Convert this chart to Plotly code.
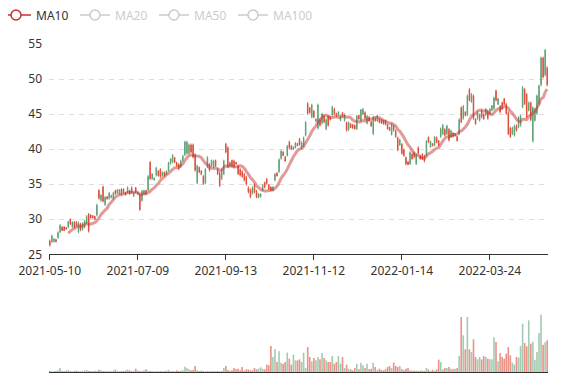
import pandas as pd
import plotly.graph_objects as go

# ---------------- data ----------------
HOLIDAYS = ["2021-05-31", "2021-08-02", "2021-08-03", "2021-09-06", "2021-10-01",
            "2021-12-24", "2021-12-31", "2022-01-17", "2022-01-31", "2022-02-01",
            "2022-02-02", "2022-02-03", "2022-02-04"]
DATES = [d.strftime("%Y-%m-%d") for d in pd.bdate_range("2021-05-10", "2022-05-03")
         if d.strftime("%Y-%m-%d") not in HOLIDAYS]

TICK_LABELS = ["2021-05-10", "2021-07-09", "2021-09-13", "2021-11-12", "2022-01-14", "2022-03-24"]

OPEN = [26.9, 26.8, 26.8, 27.1, 27.4, 28.2, 28.9, 28.9, 28.8, 28.9,
        30.0, 28.9, 29.6, 29.6, 28.2, 29.3, 28.6, 28.9, 29.5, 30.7,
        30.6, 30.5, 30.4, 30.6, 34.1, 32.7, 34.6, 32.1, 33.2, 33.0,
        33.1, 33.0, 34.1, 33.7, 33.6, 34.3, 34.3, 33.8, 33.8, 34.1,
        34.5, 33.3, 34.5, 33.8, 33.5, 32.7, 33.6, 34.1, 34.2, 38.1,
        35.8, 35.6, 36.3, 36.9, 37.1, 36.2, 36.7, 36.4, 37.0, 37.9,
        38.2, 38.8, 38.1, 37.8, 37.5, 38.4, 39.2, 39.4, 39.4, 40.6,
        40.6, 39.2, 35.2, 37.4, 36.9, 36.1, 35.2, 37.5, 37.8, 37.6,
        37.5, 38.4, 37.1, 36.6, 35.8, 36.5, 40.7, 40.2, 37.6, 38.4,
        38.3, 38.1, 37.6, 37.1, 36.8, 36.4, 36.0, 34.5, 34.2, 33.7,
        34.9, 34.0, 33.1, 33.2, 34.2, 35.2, 35.7, 34.9, 34.6, 34.1,
        35.6, 36.6, 36.8, 38.7, 39.6, 38.9, 39.1, 41.0, 40.5, 40.0,
        40.2, 40.8, 41.4, 40.2, 40.5, 42.0, 46.5, 45.9, 44.6, 45.4,
        44.0, 43.0, 44.2, 43.7, 44.7, 42.9, 44.7, 44.6, 44.9, 45.7,
        45.1, 44.8, 44.1, 45.2, 44.1, 43.8, 42.8, 43.6, 43.5, 43.4,
        42.9, 44.8, 44.1, 45.0, 45.2, 43.7, 44.6, 43.9, 42.2, 44.4,
        44.0, 44.3, 44.2, 44.1, 44.1, 43.5, 43.1, 42.1, 43.3, 42.6,
        41.6, 40.6, 40.7, 39.9, 38.8, 38.2, 37.9, 39.3, 39.5, 37.9,
        40.2, 39.1, 39.3, 39.0, 39.1, 41.7, 40.3, 40.8, 40.5, 41.7,
        41.2, 41.8, 42.2, 42.8, 42.2, 42.8, 41.7, 42.3, 41.9, 41.8,
        42.2, 45.9, 44.4, 45.3, 44.9, 48.5, 46.8, 47.6, 44.3, 44.4,
        44.1, 45.4, 45.0, 44.9, 45.4, 45.0, 45.5, 45.8, 48.3, 46.4,
        46.1, 46.6, 47.2, 46.4, 45.2, 43.0, 42.2, 42.0, 43.3, 43.2,
        43.4, 46.0, 48.5, 47.8, 45.5, 46.6, 41.2, 44.1, 45.1, 46.5,
        49.2, 53.0, 50.6, 51.6]

HIGH = [27.1, 27.8, 27.3, 27.2, 28.3, 29.3, 29.0, 29.0, 28.9, 29.8,
        30.1, 29.7, 29.7, 29.7, 29.7, 29.5, 29.6, 29.9, 30.6, 30.9,
        30.7, 30.6, 30.5, 32.2, 34.3, 33.6, 34.8, 33.3, 33.3, 33.9,
        33.5, 33.9, 34.2, 34.3, 34.3, 34.4, 34.4, 33.9, 34.7, 34.2,
        34.7, 33.9, 34.6, 33.9, 33.7, 34.2, 34.2, 34.2, 36.3, 38.3,
        36.6, 36.0, 37.5, 37.0, 37.3, 36.8, 36.8, 37.0, 38.2, 38.7,
        39.3, 38.9, 38.2, 38.0, 38.5, 39.2, 41.2, 41.2, 40.8, 40.8,
        40.8, 39.4, 37.8, 37.5, 37.0, 36.3, 37.3, 39.0, 38.0, 38.5,
        38.5, 38.5, 37.3, 36.8, 37.3, 38.5, 40.9, 40.4, 38.2, 38.5,
        38.5, 38.2, 37.8, 37.3, 37.0, 36.6, 36.2, 34.7, 34.4, 34.7,
        35.1, 34.2, 33.7, 33.7, 35.0, 35.4, 35.9, 35.0, 34.7, 34.7,
        36.6, 36.7, 38.7, 39.9, 39.7, 39.0, 40.6, 41.2, 40.6, 40.4,
        41.0, 40.9, 41.6, 41.1, 41.8, 44.0, 46.7, 46.0, 46.5, 45.6,
        44.4, 46.5, 44.4, 45.2, 44.9, 44.4, 44.9, 44.7, 46.2, 45.9,
        45.2, 45.4, 44.8, 45.3, 45.1, 43.95, 43.95, 43.7, 43.6, 43.5,
        44.9, 44.9, 45.75, 45.85, 45.4, 44.9, 44.7, 44.0, 44.7, 44.5,
        44.9, 44.4, 44.3, 44.2, 44.2, 43.6, 43.2, 43.7, 43.5, 42.8,
        41.8, 41.5, 40.85, 40.1, 38.95, 38.3, 39.7, 39.4, 39.7, 39.4,
        40.4, 39.2, 39.4, 39.2, 41.3, 41.8, 41.2, 40.85, 41.9, 41.8,
        41.3, 43.1, 43.6, 43.0, 43.5, 43.0, 42.8, 42.4, 42.3, 41.9,
        44.4, 46.1, 46.3, 45.4, 47.8, 48.7, 48.0, 47.8, 44.4, 45.4,
        45.1, 45.6, 45.1, 45.85, 45.6, 45.85, 46.3, 47.5, 48.5, 47.3,
        46.3, 46.8, 47.3, 46.6, 45.4, 43.2, 43.2, 43.5, 43.5, 44.7,
        44.9, 49.0, 48.7, 48.0, 46.8, 46.8, 46.1, 45.85, 47.8, 49.2,
        53.2, 53.2, 54.3, 51.8]

LOW = [26.1, 26.6, 26.7, 26.7, 27.2, 28.0, 28.3, 28.3, 28.5, 28.7,
       29.2, 28.8, 28.7, 29.0, 28.0, 28.3, 28.4, 28.7, 29.3, 28.1,
       30.1, 30.1, 29.9, 30.4, 32.8, 32.5, 32.4, 31.9, 32.8, 32.8,
       33.0, 32.8, 33.5, 33.6, 33.5, 33.5, 33.7, 33.4, 33.7, 33.5,
       33.7, 33.2, 33.7, 33.5, 31.2, 32.5, 33.5, 33.5, 34.0, 35.6,
       35.6, 35.5, 36.1, 36.1, 35.9, 36.1, 36.1, 36.3, 36.8, 37.8,
       38.0, 38.0, 37.5, 37.0, 37.3, 38.2, 39.0, 39.2, 39.2, 39.4,
       38.7, 36.8, 35.0, 36.6, 36.3, 34.9, 35.0, 37.3, 36.8, 37.5,
       37.3, 37.5, 36.3, 34.6, 35.6, 36.3, 39.4, 37.3, 37.5, 37.5,
       37.3, 37.8, 36.3, 36.1, 35.9, 35.4, 34.8, 33.7, 33.0, 33.5,
       33.7, 33.0, 33.0, 33.1, 34.0, 34.4, 34.9, 34.2, 34.0, 34.0,
       35.4, 36.1, 36.6, 38.5, 39.0, 38.2, 38.95, 40.0, 39.9, 39.9,
       40.1, 40.4, 40.5, 40.0, 40.3, 41.8, 44.9, 45.1, 44.4, 44.4,
       43.9, 42.8, 43.2, 43.5, 43.7, 42.7, 43.2, 44.1, 44.7, 44.8,
       44.6, 44.7, 44.0, 44.6, 43.95, 42.5, 42.6, 43.0, 42.9, 42.8,
       42.75, 44.2, 43.9, 44.9, 44.2, 43.5, 43.95, 43.2, 42.0, 43.95,
       43.95, 43.7, 43.6, 43.5, 43.4, 42.8, 42.6, 41.95, 42.5, 41.6,
       39.7, 40.5, 39.2, 38.9, 37.7, 37.7, 37.75, 38.5, 38.7, 37.75,
       39.2, 38.5, 38.5, 38.1, 38.95, 40.85, 40.2, 40.4, 40.4, 40.85,
       40.4, 41.6, 42.0, 41.8, 42.0, 41.1, 41.6, 41.7, 41.8, 41.1,
       42.0, 43.7, 44.2, 44.7, 44.7, 46.8, 46.6, 44.2, 43.5, 44.2,
       43.95, 44.4, 44.2, 44.7, 44.2, 44.9, 45.4, 45.6, 46.8, 46.3,
       45.1, 45.6, 46.3, 44.9, 42.0, 41.6, 42.0, 41.8, 42.5, 43.0,
       43.2, 45.85, 46.3, 44.4, 45.4, 44.0, 40.95, 43.95, 44.9, 46.3,
       48.95, 50.1, 50.4, 48.95]

CLOSE = [26.3, 27.6, 27.2, 26.8, 28.1, 29.1, 28.4, 28.4, 28.6, 29.6,
         29.3, 29.6, 28.8, 29.1, 29.5, 28.5, 29.4, 29.7, 30.4, 28.3,
         30.2, 30.2, 30.0, 32.0, 33.0, 33.4, 32.6, 33.1, 32.9, 33.7,
         33.4, 33.7, 33.6, 34.2, 34.2, 33.6, 33.8, 33.5, 34.5, 33.6,
         33.8, 33.8, 33.8, 33.6, 31.4, 34.0, 34.1, 33.6, 36.1, 35.8,
         36.4, 35.9, 37.3, 36.2, 36.1, 36.7, 36.2, 36.9, 38.0, 38.6,
         39.1, 38.1, 37.6, 37.2, 38.3, 39.0, 41.0, 41.0, 40.6, 39.6,
         38.9, 37.0, 37.6, 36.7, 36.4, 35.1, 37.1, 38.8, 37.0, 38.4,
         38.3, 37.6, 36.5, 34.8, 37.1, 38.3, 39.6, 37.5, 38.1, 37.6,
         37.5, 37.9, 36.5, 36.3, 36.1, 35.6, 35.0, 33.9, 33.2, 34.5,
         33.9, 33.2, 33.6, 33.6, 34.8, 34.6, 35.1, 34.3, 34.1, 34.6,
         36.4, 36.2, 38.5, 39.7, 39.1, 38.3, 40.4, 40.2, 40.0, 40.3,
         40.9, 40.5, 40.7, 40.9, 41.6, 43.8, 45.1, 45.2, 46.3, 44.6,
         44.3, 46.3, 43.4, 45.0, 43.9, 44.2, 43.4, 44.2, 46.0, 45.0,
         44.7, 45.3, 44.7, 44.7, 44.9, 42.7, 43.8, 43.1, 43.0, 42.9,
         44.7, 44.3, 45.6, 45.7, 44.4, 44.7, 44.0, 43.3, 44.5, 44.0,
         44.8, 43.8, 43.7, 43.6, 43.5, 42.9, 42.7, 43.5, 42.7, 41.8,
         39.9, 41.3, 39.4, 39.1, 37.9, 37.8, 39.5, 38.6, 38.9, 39.2,
         39.4, 38.6, 38.6, 38.3, 41.1, 41.0, 41.1, 40.5, 41.7, 41.0,
         40.5, 42.9, 43.4, 42.0, 43.3, 41.3, 42.6, 41.8, 42.2, 41.2,
         44.2, 43.9, 46.1, 44.8, 47.6, 47.0, 47.8, 44.4, 43.6, 45.2,
         44.9, 44.6, 44.3, 45.7, 44.4, 45.7, 46.2, 47.3, 47.0, 47.2,
         45.3, 45.8, 46.4, 45.1, 42.2, 41.8, 43.0, 43.3, 42.7, 44.5,
         44.7, 48.8, 46.5, 44.6, 46.6, 44.2, 45.9, 45.7, 47.6, 49.0,
         53.0, 50.3, 54.1, 49.2]

VOLUME = [3, 2, 2, 3, 5, 12, 3, 2, 4, 6,
          3, 2, 3, 4, 3, 2, 3, 5, 6, 3,
          3, 2, 4, 3, 7, 5, 3, 3, 2, 3,
          3, 4, 7, 3, 2, 3, 3, 4, 7, 5,
          3, 4, 10, 4, 3, 3, 5, 8, 4, 3,
          3, 2, 3, 2, 3, 2, 3, 4, 6, 3,
          3, 2, 5, 3, 4, 5, 16, 12, 8, 5,
          6, 18, 6, 3, 4, 3, 2, 3, 2, 3,
          3, 2, 3, 2, 3, 12, 18, 6, 4, 5,
          12, 8, 10, 5, 15, 4, 8, 8, 5, 6,
          12, 8, 10, 14, 10, 8, 22, 20, 78, 45,
          68, 30, 62, 28, 25, 30, 58, 40, 22, 52,
          35, 35, 38, 30, 58, 12, 75, 45, 32, 42,
          35, 45, 38, 57, 42, 35, 30, 30, 48, 25,
          30, 48, 25, 45, 12, 22, 10, 8, 5, 12,
          25, 8, 28, 20, 12, 25, 8, 10, 28, 15,
          6, 10, 6, 5, 8, 15, 18, 12, 28, 18,
          15, 18, 8, 5, 10, 12, 5, 4, 4, 4,
          3, 4, 4, 3, 12, 8, 3, 6, 4, 8,
          37, 30, 8, 12, 12, 15, 10, 8, 10, 12,
          48, 165, 110, 68, 165, 68, 60, 98, 45, 38,
          45, 38, 48, 45, 40, 38, 38, 104, 90, 32,
          57, 45, 40, 55, 75, 50, 28, 22, 45, 43,
          78, 145, 87, 77, 155, 85, 91, 37, 60, 117, 172, 82, 89, 95]

MA_PERIODS = [10, 20, 50, 100]

# ---------------- styling ----------------
UP = "#5b9e73"
DOWN = "#dc4b38"
UP_VOL = "rgba(91,158,115,0.55)"
DOWN_VOL = "rgba(220,75,56,0.6)"
MA_COLOR = "#c23531"
FONT = "Noto Sans"

# the page body adds an 8px offset, so the figure is 8px smaller than the window
W, H = 569, 372
ML, MR, MT, MB = 41, 29, 36, 8
PW, PH = W - ML - MR, H - MT - MB

close_s = pd.Series(CLOSE)
ma = {n: [None if pd.isna(v) else round(v, 3) for v in close_s.rolling(n).mean()] for n in MA_PERIODS}
vol_colors = [UP_VOL if c >= o else DOWN_VOL for o, c in zip(OPEN, CLOSE)]

fig = go.Figure()

fig.add_trace(go.Candlestick(
    x=DATES, open=OPEN, high=HIGH, low=LOW, close=CLOSE,
    increasing=dict(line=dict(color=UP, width=0.9), fillcolor=UP),
    decreasing=dict(line=dict(color=DOWN, width=0.9), fillcolor=DOWN),
    showlegend=False, xaxis="x", yaxis="y", name="K"))

fig.add_trace(go.Scatter(
    x=DATES, y=ma[10], mode="lines",
    line=dict(color="rgba(194,53,49,0.5)", width=3, shape="spline", smoothing=0.6),
    showlegend=False, legendgroup="ma10", xaxis="x", yaxis="y", name="MA10"))

# legend entry for MA10 (circle icon like the original)
fig.add_trace(go.Scatter(
    x=[None], y=[None], mode="lines+markers", name="MA10", legendgroup="ma10",
    line=dict(color=MA_COLOR, width=1.5),
    marker=dict(symbol="circle", size=10, color="white", line=dict(color=MA_COLOR, width=1.5)),
    xaxis="x", yaxis="y"))

for n in MA_PERIODS[1:]:
    fig.add_trace(go.Scatter(
        x=DATES, y=ma[n], mode="lines+markers", visible="legendonly",
        name=f"<span style='color:#999'>MA{n}</span>",
        line=dict(color="#999", width=1.5),
        marker=dict(symbol="circle", size=10, color="white", line=dict(color="#999", width=1.5)),
        xaxis="x", yaxis="y"))

# invisible spacer entry so the last legend label is not clipped
fig.add_trace(go.Scatter(
    x=[None], y=[None], mode="lines", name=" ", line=dict(width=0, color="rgba(0,0,0,0)"),
    hoverinfo="skip", xaxis="x", yaxis="y"))

fig.add_trace(go.Bar(
    x=DATES, y=VOLUME, marker=dict(color=vol_colors, line=dict(width=0)),
    showlegend=False, xaxis="x2", yaxis="y2", name="Volume"))

N = len(DATES)
fig.update_layout(
    width=W, height=H,
    margin=dict(l=ML, r=MR, t=MT, b=MB, autoexpand=False),
    paper_bgcolor="white", plot_bgcolor="white",
    font=dict(family=FONT, size=12, color="#333"),
    bargap=0.2, boxgap=0.6,
    legend=dict(orientation="h",
                x=(-12 - ML) / PW, xref="paper", xanchor="left",
                y=1 + (MT - 7) / PH, yref="paper", yanchor="middle",
                font=dict(size=12, color="#333"), itemwidth=30,
                entrywidth=34, entrywidthmode="pixels",
                bgcolor="rgba(0,0,0,0)"),
    xaxis=dict(type="category", domain=[0, 1], anchor="y", range=[-0.4, N - 0.6],
               rangeslider=dict(visible=False), automargin=False,
               showline=True, linecolor="#333", linewidth=1,
               ticks="outside", ticklen=5, tickcolor="#333",
               tickvals=TICK_LABELS, ticktext=TICK_LABELS,
               showgrid=False, zeroline=False, tickfont=dict(size=12, color="#333")),
    yaxis=dict(domain=[0.3588, 1], anchor="x", range=[25, 55], dtick=5, automargin=False,
               showline=False, ticks="", showgrid=True, gridcolor="#ddd",
               griddash="5px,5px", gridwidth=1, zeroline=False,
               tickfont=dict(size=12, color="#333"), ticklabelstandoff=6),
    xaxis2=dict(type="category", domain=[0, 1], anchor="y2", matches="x", automargin=False,
                showline=True, linecolor="#333", linewidth=1,
                ticks="", showticklabels=False, showgrid=False, zeroline=False),
    yaxis2=dict(domain=[0, 0.2195], anchor="x2", range=[0, 216], automargin=False,
                showline=False, showgrid=False, showticklabels=False,
                ticks="", zeroline=False),
)

fig.write_html("out.html")
